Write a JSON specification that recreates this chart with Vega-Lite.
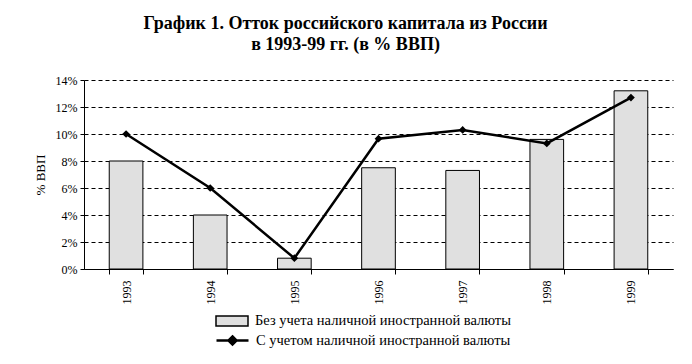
{
  "$schema": "https://vega.github.io/schema/vega-lite/v6.json",
  "autosize": {"type": "none"},
  "width": 589,
  "height": 189,
  "padding": {"left": 84, "top": 80, "right": 19, "bottom": 95},
  "background": "white",
  "config": {
    "font": "Liberation Serif",
    "view": {"stroke": null},
    "axisY": {
      "title": "% ВВП",
      "format": ".0%",
      "values": [0, 0.02, 0.04, 0.06, 0.08, 0.1, 0.12, 0.14],
      "labelOverlap": false,
      "grid": true,
      "gridDash": [4, 3],
      "gridColor": "black",
      "gridOpacity": 1,
      "domainColor": "black",
      "tickColor": "black",
      "tickSize": 4,
      "labelFontSize": 12,
      "labelColor": "black",
      "labelPadding": 3,
      "titleFontSize": 13,
      "titleFontWeight": "normal",
      "titleColor": "black",
      "titlePadding": 8
    }
  },
  "title": {
    "text": ["График 1.  Отток российского капитала из России", "в 1993-99 гг. (в % ВВП)"],
    "font": "Liberation Serif",
    "fontSize": 18,
    "fontWeight": "bold",
    "color": "black",
    "anchor": "middle",
    "frame": "group",
    "dx": -33,
    "offset": 20,
    "lineHeight": 21
  },
  "data": {
    "values": [
      {"year": "1993", "bar": 0.080, "line": 0.100},
      {"year": "1994", "bar": 0.040, "line": 0.060},
      {"year": "1995", "bar": 0.008, "line": 0.008},
      {"year": "1996", "bar": 0.075, "line": 0.0965},
      {"year": "1997", "bar": 0.073, "line": 0.103},
      {"year": "1998", "bar": 0.096, "line": 0.093},
      {"year": "1999", "bar": 0.132, "line": 0.127}
    ]
  },
  "encoding": {
    "x": {
      "field": "year",
      "type": "ordinal",
      "scale": {"paddingInner": 0.6, "paddingOuter": 0.3},
      "axis": {
        "title": null,
        "labelAngle": -90,
        "tickBand": "extent",
        "tickSize": 5,
        "labelFontSize": 12,
        "labelColor": "black",
        "domainColor": "black",
        "tickColor": "black",
        "labelPadding": 6,
        "grid": false
      }
    }
  },
  "layer": [
    {
      "mark": {"type": "bar", "stroke": "black", "strokeWidth": 1},
      "encoding": {
        "y": {
          "field": "bar",
          "type": "quantitative",
          "scale": {"domain": [0, 0.14], "nice": false},
          "title": "% ВВП"
        },
        "fill": {
          "datum": "Без учета наличной иностранной валюты",
          "type": "nominal",
          "scale": {"range": ["#e0e0e0"]},
          "legend": {
            "title": null,
            "orient": "none",
            "legendX": 131,
            "legendY": 224,
            "symbolType": "M-1,-0.3125H1V0.3125H-1Z",
            "symbolSize": 1024,
            "labelFontSize": 14.5,
            "labelColor": "black",
            "labelOffset": 6,
            "labelLimit": 0,
            "encode": {"symbols": {"update": {"stroke": {"value": "black"}, "strokeWidth": {"value": 1}, "fill": {"value": "#e0e0e0"}, "opacity": {"value": 1}}}}
          }
        }
      }
    },
    {
      "mark": {"type": "line", "strokeWidth": 2.5},
      "encoding": {
        "y": {"field": "line", "type": "quantitative", "title": "% ВВП"},
        "stroke": {
          "datum": "С учетом наличной иностранной валюты",
          "type": "nominal",
          "scale": {"range": ["black"]},
          "legend": {
            "title": null,
            "orient": "none",
            "legendX": 131,
            "legendY": 243,
            "symbolType": "M-1,0H1M0,-0.25L0.25,0L0,0.25L-0.25,0Z",
            "symbolSize": 1024,
            "labelFontSize": 14.5,
            "labelColor": "black",
            "labelOffset": 6,
            "labelLimit": 0,
            "encode": {"symbols": {"update": {"stroke": {"value": "black"}, "strokeWidth": {"value": 2.5}, "fill": {"value": "black"}, "opacity": {"value": 1}}}}
          }
        }
      }
    },
    {
      "mark": {"type": "point", "shape": "diamond", "filled": true, "size": 60, "color": "black", "opacity": 1},
      "encoding": {"y": {"field": "line", "type": "quantitative", "title": "% ВВП"}}
    }
  ]
}
